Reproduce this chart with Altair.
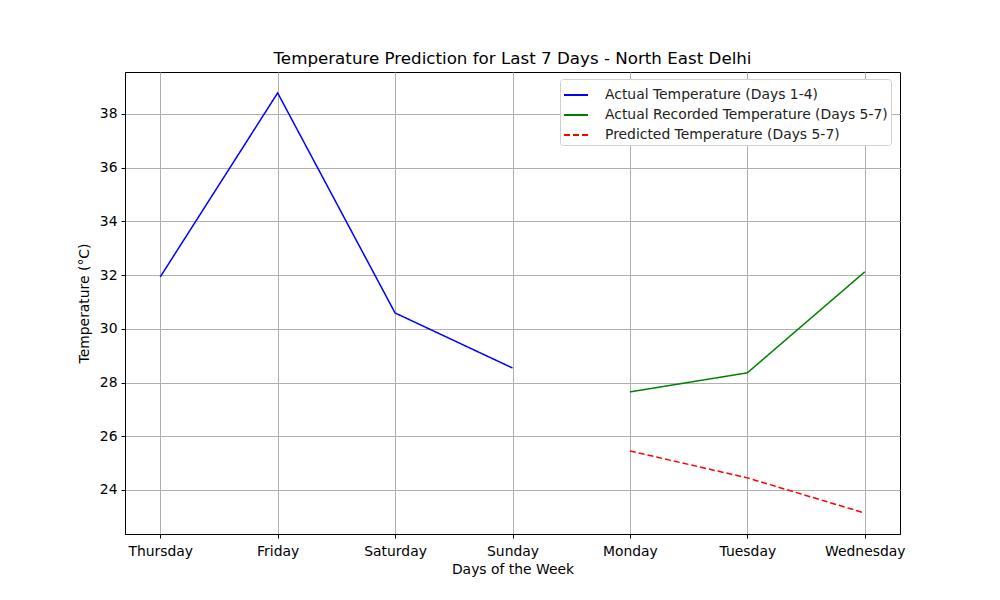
import altair as alt
import pandas as pd

days = ["Thursday", "Friday", "Saturday", "Sunday", "Monday", "Tuesday", "Wednesday"]
actual_days = ["Thursday", "Friday", "Saturday", "Sunday"]
actual_vals = [31.93, 38.78, 30.59, 28.54]
recorded_days = ["Monday", "Tuesday", "Wednesday"]
recorded_vals = [27.65, 28.36, 32.12]
pred_days = ["Monday", "Tuesday", "Wednesday"]
pred_vals = [25.45, 24.45, 23.14]

s1 = "Actual Temperature (Days 1-4)"
s2 = "Actual Recorded Temperature (Days 5-7)"
s3 = "Predicted Temperature (Days 5-7)"

rows = []
for d, v in zip(actual_days, actual_vals):
    rows.append({"day": d, "temp": v, "series": s1})
for d, v in zip(recorded_days, recorded_vals):
    rows.append({"day": d, "temp": v, "series": s2})
for d, v in zip(pred_days, pred_vals):
    rows.append({"day": d, "temp": v, "series": s3})
df = pd.DataFrame(rows)

font = "DejaVu Sans"
fs = 13.9

legend_kw = dict(title=None, orient="none", legendX=435, legendY=7,
                 symbolType="stroke", symbolSize=576, symbolStrokeWidth=2,
                 labelFontSize=fs, labelColor="#222", labelLimit=500, labelOffset=16,
                 strokeColor="#d0d0d0", fillColor="white", padding=3,
                 cornerRadius=3, rowPadding=-2)

chart = alt.Chart(df).mark_line(strokeWidth=1.5).encode(
    x=alt.X("day:O", sort=days, scale=alt.Scale(type="point", padding=0.3, domain=days),
            axis=alt.Axis(title="Days of the Week", labelAngle=0, grid=True, gridColor="#b0b0b0",
                          tickSize=4, tickColor="black", domainColor="black",
                          labelFontSize=fs, titleFontSize=fs, labelColor="black", titleColor="black",
                          titleFontWeight="normal", labelPadding=6, titlePadding=5)),
    y=alt.Y("temp:Q", scale=alt.Scale(domain=[22.36, 39.56], nice=False, zero=False),
            axis=alt.Axis(title="Temperature (°C)", values=[24, 26, 28, 30, 32, 34, 36, 38],
                          grid=True, gridColor="#b0b0b0", tickSize=4, tickColor="black",
                          domainColor="black", labelFontSize=fs, titleFontSize=fs,
                          labelColor="black", titleColor="black", titleFontWeight="normal",
                          labelPadding=4, titlePadding=8)),
    color=alt.Color("series:N", scale=alt.Scale(domain=[s1, s2, s3], range=["blue", "green", "red"]),
                    legend=alt.Legend(**legend_kw)),
    strokeDash=alt.StrokeDash("series:N", scale=alt.Scale(domain=[s1, s2, s3], range=[[1, 0], [1, 0], [6, 3]]),
                              legend=alt.Legend(**legend_kw)),
).properties(
    width=775, height=462,
    title=alt.Title("Temperature Prediction for Last 7 Days - North East Delhi", fontSize=16.7,
                    fontWeight="normal", color="black", offset=4),
    padding={"left": 69, "top": 43, "right": 5, "bottom": 5},
).configure(font=font).configure_view(stroke="black", strokeWidth=1)

chart.save("out.html", embed_options={"renderer": "svg", "actions": False})
